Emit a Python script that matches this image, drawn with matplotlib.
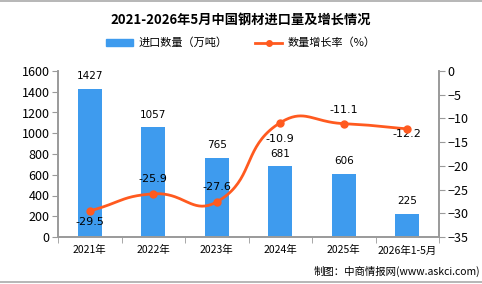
import numpy as np
import matplotlib
matplotlib.use("Agg")
import matplotlib.pyplot as plt
from matplotlib.lines import Line2D
from matplotlib.patches import Patch

plt.rcParams['font.family'] = ['Noto Sans CJK SC', 'DejaVu Sans']

# data
categories = ["2021年", "2022年", "2023年", "2024年", "2025年", "2026年1-5月"]
import_volume = [1427, 1057, 765, 681, 606, 225]
growth_rate = [-29.5, -25.9, -27.6, -10.9, -11.1, -12.2]
# label offset from its point, in points (positive = above)
label_offset = [-8, 11, 11, -12, 10, -4]

bar_color = "#3E9BEE"
line_color = "#FF5A1F"
axis_color = "#9A9A9A"


def smooth_curve(px, py, smooth=0.5, n=40):
    # bezier smoothing in pixel space, like echarts' smooth line
    pts = np.column_stack([px, py]).astype(float)
    k = len(pts)
    out = []
    for i in range(k - 1):
        p0, p1 = pts[i], pts[i + 1]

        def ctrl(j, forward):
            p = pts[j]
            prev = pts[j - 1] if j > 0 else p
            nxt = pts[j + 1] if j < k - 1 else p
            v = nxt - prev
            d0 = np.linalg.norm(p - prev)
            d1 = np.linalg.norm(nxt - p)
            s = d0 + d1
            if s == 0:
                return p
            if forward:
                return p + v * smooth * d1 / s
            return p - v * smooth * d0 / s

        c0 = ctrl(i, True)
        c1 = ctrl(i + 1, False)
        t = np.linspace(0, 1, n)[:, None]
        seg = ((1 - t) ** 3) * p0 + 3 * ((1 - t) ** 2) * t * c0 + 3 * (1 - t) * t ** 2 * c1 + t ** 3 * p1
        out.append(seg if i == 0 else seg[1:])
    out = np.vstack(out)
    return out[:, 0], out[:, 1]


fig = plt.figure(figsize=(4.82, 2.84), dpi=100)
ax = fig.add_axes([58 / 482, 1 - 237 / 284, 381 / 482, 166 / 284])
ax2 = ax.twinx()

x = np.arange(len(categories))
ax.bar(x, import_volume, width=0.38, color=bar_color, zorder=2)
for xi, v in zip(x, import_volume):
    ax.text(xi, v + 75, str(v), ha='center', va='bottom', fontsize=7.5, family='DejaVu Sans')

ax.set_xlim(-0.5, len(categories) - 0.5)
ax.set_ylim(0, 1600)
ax.set_yticks(range(0, 1601, 200))
ax.set_xticks(x)
ax.set_xticklabels(categories, fontsize=7.5)
ax.set_xticks(np.arange(-0.5, len(categories), 1), minor=True)
ax.tick_params(axis='x', which='major', length=0, pad=6)
ax.tick_params(axis='x', which='minor', length=4, color=axis_color)
ax.tick_params(axis='y', labelsize=9, length=4, color=axis_color, pad=2)

ax2.set_ylim(-35, 0)
ax2.set_yticks(range(-35, 1, 5))
ax2.set_yticklabels([str(t).replace('-', '−') for t in range(-35, 1, 5)])
ax2.tick_params(axis='y', labelsize=9, length=4, color=axis_color, pad=2)

# smooth the line in screen space, then map it back to data
pix = ax2.transData.transform(np.column_stack([x, growth_rate]))
sx, sy = smooth_curve(pix[:, 0], pix[:, 1])
curve = ax2.transData.inverted().transform(np.column_stack([sx, sy]))
ax2.plot(curve[:, 0], curve[:, 1], color=line_color, lw=2, zorder=3)
ax2.plot(x, growth_rate, 'o', color=line_color, ms=5, zorder=4)
for xi, v, off in zip(x, growth_rate, label_offset):
    ax2.annotate(f"{v}", (xi, v), xytext=(0, off), textcoords='offset points',
                 ha='center', va='center', fontsize=8, family='DejaVu Sans')

for a in (ax, ax2):
    a.spines['top'].set_visible(False)
    for side in ('left', 'right', 'bottom'):
        a.spines[side].set_color(axis_color)
        a.spines[side].set_linewidth(1.2)

fig.text(0.5, 1 - 20 / 284, "2021-2026年5月中国钢材进口量及增长情况", ha='center', va='center',
         fontsize=9.5, fontweight='bold')

handles = [Patch(color=bar_color, label="进口数量（万吨）"),
           Line2D([0], [0], color=line_color, lw=2, marker='o', ms=4, label="数量增长率（%）")]
fig.legend(handles=handles, loc='center', bbox_to_anchor=(0.5, 1 - 43 / 284), ncol=2, frameon=False,
           fontsize=8, handlelength=2.4, handleheight=0.6, columnspacing=2.5, handletextpad=0.5)

fig.text(1 - 2 / 482, 1 - 271 / 284, "制图：中商情报网(www.askci.com)", ha='right', va='center', fontsize=7.5)

# thin grey frame lines at top and bottom of the image
fig.add_artist(Line2D([0, 1], [0.998, 0.998], color='#AAAAAA', lw=1.2))
fig.add_artist(Line2D([0, 1], [1 - 282 / 284, 1 - 282 / 284], color='#AAAAAA', lw=1.2))

fig.savefig("out.png", dpi=100)
